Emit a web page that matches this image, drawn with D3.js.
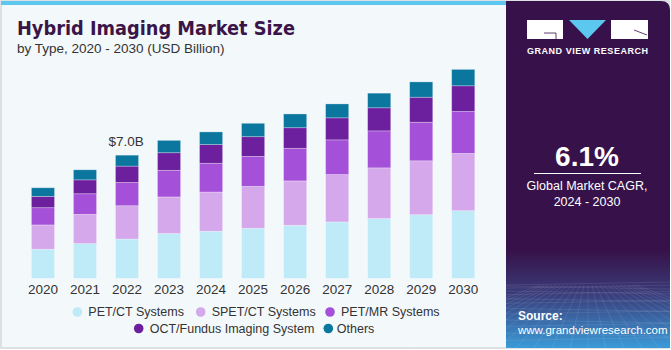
<!doctype html>
<html>
<head>
<meta charset="utf-8">
<script src="https://d3js.org/d3.v7.min.js"></script>
<style>
  body { margin: 0; background: #fff; }
  svg { display: block; font-family: "Liberation Sans", Arial, sans-serif; }
</style>
</head>
<body>
<svg width="671" height="350"></svg>
<script>
// data (USD billion)
var years = ["2020","2021","2022","2023","2024","2025","2026","2027","2028","2029","2030"];
var series = ["PET/CT Systems","SPET/CT Systems","PET/MR Systems","OCT/Fundus Imaging System","Others"];
var petCt   = [1.65, 1.97, 2.23, 2.54, 2.67, 2.84, 3.01, 3.20, 3.39, 3.61, 3.84];
var spetCt  = [1.38, 1.66, 1.89, 2.08, 2.23, 2.38, 2.52, 2.69, 2.88, 3.06, 3.25];
var petMr   = [0.98, 1.17, 1.32, 1.51, 1.63, 1.70, 1.85, 1.97, 2.10, 2.19, 2.38];
var octFund = [0.64, 0.79, 0.93, 1.00, 1.06, 1.12, 1.17, 1.25, 1.31, 1.42, 1.46];
var others  = [0.49, 0.57, 0.62, 0.70, 0.72, 0.76, 0.78, 0.79, 0.83, 0.87, 0.93];
var colors = ["#bfeaf8","#d5a8ec","#a550d8","#6c209e","#0b779f"];
var callout = {year: "2022", label: "$7.0B"};

var svg = d3.select("svg");

// backgrounds
svg.append("rect").attr("x", 0).attr("y", 0).attr("width", 671).attr("height", 350).attr("fill", "#ffffff");
svg.append("rect").attr("x", 1).attr("y", 1).attr("width", 668).attr("height", 347)
  .attr("fill", "#f3f8fb").attr("stroke", "#d4d8db").attr("stroke-width", 1.5);
svg.append("rect").attr("x", 1).attr("y", 1).attr("width", 506).attr("height", 4).attr("fill", "#5cc7ef");

// right panel
var defs = svg.append("defs");
var g1 = defs.append("linearGradient").attr("id", "panelGrad").attr("x1", 0).attr("x2", 0).attr("y1", 0).attr("y2", 1);
g1.append("stop").attr("offset", "0").attr("stop-color", "#37124a");
g1.append("stop").attr("offset", "0.72").attr("stop-color", "#37124a");
g1.append("stop").attr("offset", "0.84").attr("stop-color", "#3a3a78");
g1.append("stop").attr("offset", "1").attr("stop-color", "#3b9ad8");
svg.append("path")
  .attr("d", "M506,1 H661 Q670,1 670,10 V348 H506 Z")
  .attr("fill", "url(#panelGrad)");

// faint perspective grid in the panel bottom
var grid = svg.append("g").attr("stroke", "#ffffff").attr("stroke-opacity", 0.13).attr("stroke-width", 0.7);
d3.range(0, 14).forEach(function(i) {
  var y = 285 + Math.pow(i / 13, 1.6) * 63;
  grid.append("line").attr("x1", 506).attr("x2", 670).attr("y1", y).attr("y2", y + (i % 2 ? 3 : -3));
});
d3.range(-12, 13).forEach(function(i) {
  grid.append("line").attr("x1", 588 + i * 4).attr("y1", 285).attr("x2", 588 + i * 18).attr("y2", 348);
});

// logo
var logo = svg.append("g");
logo.append("rect").attr("x", 527).attr("y", 20).attr("width", 36).attr("height", 19).attr("fill", "#fff");
logo.append("path").attr("d", "M544,33 H556 V39").attr("fill", "none").attr("stroke", "#37124a").attr("stroke-width", 0.8);
logo.append("path").attr("d", "M569,20 H606 L587.5,39 Z").attr("fill", "#5cc7ef");
logo.append("rect").attr("x", 611).attr("y", 20).attr("width", 37).attr("height", 19).attr("fill", "#fff");
logo.append("path").attr("d", "M634,30 L647,35").attr("stroke", "#37124a").attr("stroke-width", 0.8);
svg.append("text").attr("x", 527).attr("y", 54)
  .attr("fill", "#fff").attr("font-size", 9).attr("font-weight", "bold")
  .attr("textLength", 121).attr("lengthAdjust", "spacing")
  .text("GRAND VIEW RESEARCH");

svg.append("text").attr("x", 587).attr("y", 166).attr("text-anchor", "middle")
  .attr("fill", "#fff").attr("font-size", 28).attr("font-weight", "bold").text("6.1%");
svg.append("line").attr("x1", 534).attr("x2", 641).attr("y1", 173.5).attr("y2", 173.5)
  .attr("stroke", "#fff").attr("stroke-width", 1);
svg.append("text").attr("x", 587).attr("y", 190).attr("text-anchor", "middle")
  .attr("fill", "#fff").attr("font-size", 12.5).text("Global Market CAGR,");
svg.append("text").attr("x", 587).attr("y", 206).attr("text-anchor", "middle")
  .attr("fill", "#fff").attr("font-size", 12.5).text("2024 - 2030");
svg.append("text").attr("x", 518).attr("y", 320)
  .attr("fill", "#fff").attr("font-size", 12).attr("font-weight", "bold").text("Source:");
svg.append("text").attr("x", 518).attr("y", 334)
  .attr("fill", "#fff").attr("font-size", 11.5).text("www.grandviewresearch.com");

// title
svg.append("text").attr("x", 17).attr("y", 35)
  .attr("fill", "#3b1548").attr("font-size", 20).attr("font-weight", "900")
  .attr("font-family", "'DejaVu Sans', sans-serif")
  .attr("textLength", 278).attr("lengthAdjust", "spacingAndGlyphs")
  .text("Hybrid Imaging Market Size");
svg.append("text").attr("x", 17).attr("y", 53)
  .attr("fill", "#333").attr("font-size", 13.5).text("by Type, 2020 - 2030 (USD Billion)");

// chart
var table = years.map(function(y, i) {
  return {year: y, s0: petCt[i], s1: spetCt[i], s2: petMr[i], s3: octFund[i], s4: others[i]};
});
var keys = ["s0","s1","s2","s3","s4"];
var stacked = d3.stack().keys(keys)(table);

var x = d3.scaleBand().domain(years).range([12.5, 493.7]).paddingInner(0.45).paddingOuter(0.45);
var y = d3.scaleLinear().domain([0, 7.0]).range([278.3, 155]);

var chart = svg.append("g");
chart.selectAll("g.layer").data(stacked).join("g")
  .attr("class", "layer")
  .attr("fill", function(d, i) { return colors[i]; })
  .selectAll("rect").data(function(d) { return d; }).join("rect")
  .attr("x", function(d) { return x(d.data.year); })
  .attr("width", x.bandwidth())
  .attr("y", function(d) { return y(d[1]); })
  .attr("height", function(d) { return y(d[0]) - y(d[1]); })
  .attr("stroke", "#ffffff").attr("stroke-opacity", 0.35).attr("stroke-width", 0.8);

// total label
var ci = years.indexOf(callout.year);
var tot = d3.sum(keys, function(k) { return table[ci][k]; });
svg.append("text").attr("x", x(callout.year) + x.bandwidth() / 2 - 1).attr("y", y(tot) - 9)
  .attr("text-anchor", "middle").attr("fill", "#333").attr("font-size", 13.5).text(callout.label);

// x axis labels
var xAxis = svg.append("g").attr("transform", "translate(0,279)")
  .call(d3.axisBottom(x).tickSize(0).tickPadding(5));
xAxis.select(".domain").remove();
xAxis.selectAll("text").attr("fill", "#333").attr("font-size", 13.5)
  .attr("font-family", "'Liberation Sans', Arial, sans-serif");

// legend
var legendPos = [[77.3, 312], [200.7, 312], [330, 312], [138.7, 328.5], [328.3, 328.5]];
var legend = svg.append("g").selectAll("g").data(series).join("g")
  .attr("transform", function(d, i) { return "translate(" + legendPos[i][0] + "," + legendPos[i][1] + ")"; });
legend.append("circle").attr("r", 4.8).attr("fill", function(d, i) { return colors[i]; });
legend.append("text").attr("x", function(d, i) { return i === 4 ? 8.5 : 11; }).attr("dy", "0.35em")
  .attr("fill", "#333").attr("font-size", 12.5).text(function(d) { return d; });
</script>
</body>
</html>
